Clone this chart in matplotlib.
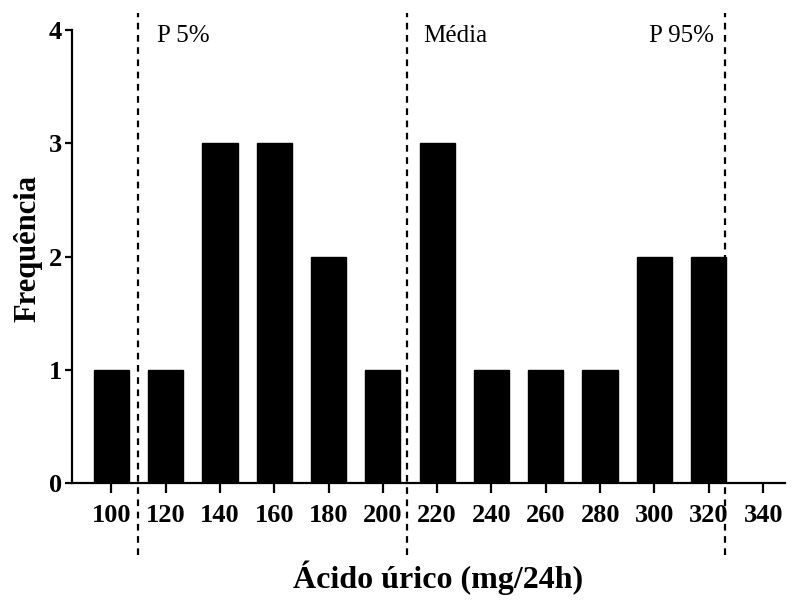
import numpy as np
import matplotlib
matplotlib.use("Agg")
import matplotlib.pyplot as plt

plt.rcParams['font.family'] = ['Liberation Serif', 'DejaVu Serif']

# histogram of uric acid (mg/24h)
bins = [100, 120, 140, 160, 180, 200, 220, 240, 260, 280, 300, 320, 340]
freq = [1, 1, 3, 3, 2, 1, 3, 1, 1, 1, 2, 2, 0]

# reference lines
ref_labels = ["P 5%", "Média", "P 95%"]
ref_values = [110, 209, 326]

fig = plt.figure(figsize=(7.92, 6.05), dpi=100)
ax = fig.add_axes([0.091, 0.202, 0.900, 0.748])

ax.bar(bins, freq, width=13, color='black', edgecolor='black')

ax.set_xlim(85.6, 348)
ax.set_ylim(0, 4)
ax.set_xticks(bins)
ax.set_yticks([0, 1, 2, 3, 4])

for side in ['top', 'right']:
    ax.spines[side].set_visible(False)
for side in ['left', 'bottom']:
    ax.spines[side].set_linewidth(1.6)

ax.tick_params(axis='x', length=7, width=1.6, pad=8, labelsize=19)
ax.tick_params(axis='y', length=5, width=1.6, pad=2, labelsize=19)
for lbl in ax.get_xticklabels() + ax.get_yticklabels():
    lbl.set_fontweight('bold')

# dashed reference lines running past the axes
for v in ref_values:
    ax.plot([v, v], [-0.64, 4.15], color='black', linestyle=(0, (3, 2.5)),
            linewidth=1.6, clip_on=False)

ax.text(ref_values[0] + 7, 3.95, ref_labels[0], fontsize=18, va='center', ha='left')
ax.text(ref_values[1] + 6, 3.95, ref_labels[1], fontsize=18, va='center', ha='left')
ax.text(ref_values[2] - 4, 3.95, ref_labels[2], fontsize=18, va='center', ha='right')

ax.set_xlabel("Ácido úrico (mg/24h)", fontsize=23, fontweight='bold')
ax.set_ylabel("Frequência", fontsize=22, fontweight='bold')
ax.xaxis.set_label_coords(0.513, -0.172)
ax.yaxis.set_label_coords(-0.042, 0.517)

fig.savefig("out.png", dpi=100)
